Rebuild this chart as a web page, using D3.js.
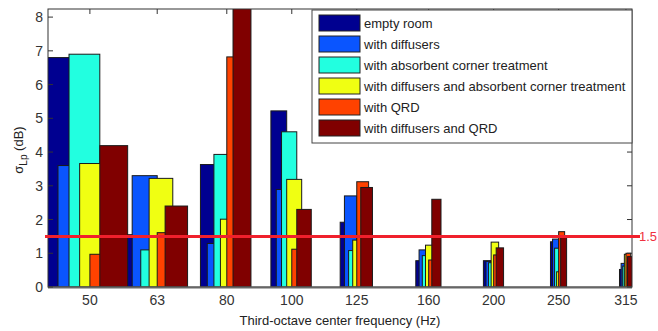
<!DOCTYPE html>
<html>
<head>
<meta charset="utf-8">
<script src="https://cdn.jsdelivr.net/npm/d3@7"></script>
<style>
  body { margin: 0; background: #fff; }
  text { font-family: "Liberation Sans", Arial, sans-serif; }
</style>
</head>
<body>
<svg id="chart" width="658" height="331"></svg>
<script>
const FREQS = [50, 63, 80, 100, 125, 160, 200, 250, 315]
const TICK_LABELS = ['50', '63', '80', '100', '125', '160', '200', '250', '315']

const SERIES_NAMES = [
  'empty room',
  'with diffusers',
  'with absorbent corner treatment',
  'with diffusers and absorbent corner treatment',
  'with QRD',
  'with diffusers and QRD'
]

const EMPTY_ROOM = [6.8, 1.55, 3.63, 5.22, 1.92, 0.78, 0.78, 1.34, 0.52]
const DIFFUSERS = [3.6, 3.3, 1.29, 2.89, 2.7, 1.1, 0.76, 1.42, 0.7]
const ABSORBENT = [6.9, 1.1, 3.93, 4.6, 1.08, 0.93, 0.72, 1.15, 0.62]
const DIFF_ABSORBENT = [3.66, 3.22, 2.01, 3.19, 1.39, 1.24, 1.33, 0.45, 0.97]
const QRD = [0.97, 1.61, 6.82, 1.12, 3.12, 0.8, 0.95, 1.64, 1.0]
const DIFF_QRD = [4.19, 2.4, 8.6, 2.3, 2.95, 2.6, 1.16, 1.52, 0.9]

const Y_TICKS = [0, 1, 2, 3, 4, 5, 6, 7, 8]
const THRESHOLD = 1.5

const COLORS = ['#000090', '#0a55ff', '#22ffe0', '#f0ff12', '#ff4200', '#800000']

const SERIES = [EMPTY_ROOM, DIFFUSERS, ABSORBENT, DIFF_ABSORBENT, QRD, DIFF_QRD]

const plot = { left: 48, right: 632, top: 9, bottom: 287 }
const svg = d3.select('#chart')

// log x axis, bars keep a linear width in Hz (matlab style grouping)
const x = d3.scaleLog().domain([43.3, 321.6]).range([plot.left, plot.right])
const y = d3.scaleLinear().domain([0, 8.24]).range([plot.bottom, plot.top])

const step = 1.73      // Hz between bars of a group
const barW = 3 * step  // Hz, bars overlap

svg.append('clipPath').attr('id', 'plot-clip')
  .append('rect')
  .attr('x', plot.left).attr('y', plot.top)
  .attr('width', plot.right - plot.left).attr('height', plot.bottom - plot.top)

const barsG = svg.append('g').attr('clip-path', 'url(#plot-clip)')

// draw series by series, later ones on top
SERIES.forEach((vals, i) => {
  const lo = f => x(f + (i - 2.5) * step - barW / 2)
  const hi = f => x(f + (i - 2.5) * step + barW / 2)
  barsG.selectAll(null)
    .data(vals.map((v, j) => ({ f: FREQS[j], v })))
    .join('rect')
    .attr('x', d => lo(d.f))
    .attr('width', d => hi(d.f) - lo(d.f))
    .attr('y', d => y(d.v))
    .attr('height', d => y(0) - y(d.v))
    .attr('fill', COLORS[i])
    .attr('stroke', '#1a1a1a')
    .attr('stroke-width', 1)
})

// frame
const axisColor = '#333'
svg.append('rect')
  .attr('x', plot.left).attr('y', plot.top)
  .attr('width', plot.right - plot.left).attr('height', plot.bottom - plot.top)
  .attr('fill', 'none').attr('stroke', axisColor).attr('stroke-width', 1)
svg.append('line')
  .attr('x1', plot.left).attr('x2', plot.right)
  .attr('y1', plot.bottom + 0.5).attr('y2', plot.bottom + 0.5)
  .attr('stroke', '#666').attr('stroke-width', 2)

// y ticks both sides
Y_TICKS.forEach(t => {
  svg.append('line')
    .attr('x1', plot.left).attr('x2', plot.left + 5)
    .attr('y1', y(t)).attr('y2', y(t)).attr('stroke', axisColor)
  svg.append('line')
    .attr('x1', plot.right - 5).attr('x2', plot.right)
    .attr('y1', y(t)).attr('y2', y(t)).attr('stroke', axisColor)
  svg.append('text')
    .attr('x', plot.left - 5).attr('y', y(t) + 5)
    .attr('text-anchor', 'end')
    .attr('font-size', 14).attr('fill', '#333')
    .text(t)
})

// x ticks top, labels bottom
FREQS.forEach((f, j) => {
  svg.append('line')
    .attr('x1', x(f)).attr('x2', x(f))
    .attr('y1', plot.top).attr('y2', plot.top + 5).attr('stroke', axisColor)
  svg.append('text')
    .attr('x', x(f)).attr('y', 305)
    .attr('text-anchor', 'middle')
    .attr('font-size', 14).attr('fill', '#333')
    .text(TICK_LABELS[j])
})

// threshold line
svg.append('line')
  .attr('x1', 45).attr('x2', 640)
  .attr('y1', y(THRESHOLD)).attr('y2', y(THRESHOLD))
  .attr('stroke', '#f0202c').attr('stroke-width', 3)
svg.append('text')
  .attr('x', 657).attr('y', y(THRESHOLD) + 5)
  .attr('text-anchor', 'end')
  .attr('font-size', 13).attr('fill', '#f03040')
  .text(THRESHOLD)

// axis titles
svg.append('text')
  .attr('x', 340).attr('y', 325)
  .attr('text-anchor', 'middle')
  .attr('font-size', 13).attr('fill', '#222')
  .text('Third-octave center frequency (Hz)')

const yTitle = svg.append('text')
  .attr('transform', 'translate(23,150) rotate(-90)')
  .attr('text-anchor', 'middle')
  .attr('font-size', 13).attr('fill', '#222')
yTitle.append('tspan').text('σ')
yTitle.append('tspan').attr('font-size', 10).attr('dy', 4).text('Lp')
yTitle.append('tspan').attr('dy', -4).text(' (dB)')

// legend
const legend = svg.append('g')
legend.append('rect')
  .attr('x', 312).attr('y', 10)
  .attr('width', plot.right - 312).attr('height', 133)
  .attr('fill', '#fff').attr('stroke', '#444').attr('stroke-width', 1)

SERIES_NAMES.forEach((name, i) => {
  const ry = 15 + i * 21
  legend.append('rect')
    .attr('x', 319).attr('y', ry)
    .attr('width', 41).attr('height', 16)
    .attr('fill', COLORS[i]).attr('stroke', '#222')
  legend.append('text')
    .attr('x', 364).attr('y', ry + 13)
    .attr('font-size', 13).attr('fill', '#222')
    .text(name)
})
</script>
</body>
</html>
